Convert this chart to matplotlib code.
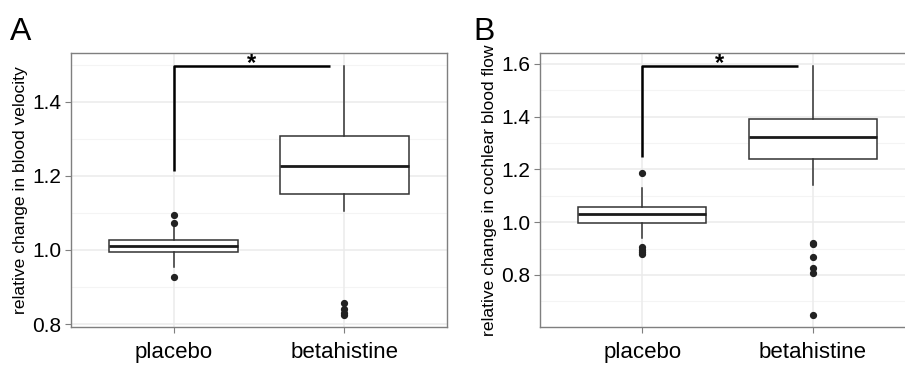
import matplotlib
matplotlib.use("Agg")
import matplotlib.pyplot as plt

plt.rcParams['font.family'] = ['Liberation Sans', 'DejaVu Sans']

groups = ["placebo", "betahistine"]

# panel A: relative change in blood velocity
a_stats = [
    dict(med=1.012, q1=0.995, q3=1.026, whislo=0.955, whishi=1.063, fliers=[1.095, 1.074, 0.927]),
    dict(med=1.227, q1=1.150, q3=1.308, whislo=1.106, whishi=1.498, fliers=[0.856, 0.840, 0.831, 0.825]),
]
# panel B: relative change in cochlear blood flow
b_stats = [
    dict(med=1.032, q1=0.997, q3=1.056, whislo=0.942, whishi=1.130, fliers=[1.185, 0.905, 0.895, 0.888, 0.880]),
    dict(med=1.323, q1=1.240, q3=1.391, whislo=1.140, whishi=1.592, fliers=[0.923, 0.917, 0.869, 0.825, 0.806, 0.650]),
]

a_bracket = (1.498, 1.213)
b_bracket = (1.592, 1.246)


def draw_panel(ax, stats, ylim, major, minor, ylabel, bracket):
    ax.set_facecolor("white")
    ax.set_ylim(*ylim)
    ax.set_xlim(0.4, 2.6)
    for y in minor:
        ax.axhline(y, color="#f4f4f4", lw=0.8, zorder=0)
    for y in major:
        ax.axhline(y, color="#ebebeb", lw=1.1, zorder=0)
    for x in [1, 2]:
        ax.axvline(x, color="#ebebeb", lw=1.1, zorder=0)

    ax.bxp(stats, positions=[1, 2], widths=0.75, patch_artist=True, showcaps=False,
           boxprops=dict(facecolor="white", edgecolor="#333333", linewidth=1.1),
           medianprops=dict(color="#1a1a1a", linewidth=2.0),
           whiskerprops=dict(color="#333333", linewidth=1.1),
           flierprops=dict(marker="o", markerfacecolor="#222222", markeredgecolor="#222222",
                           markersize=4.2),
           zorder=3)

    top, low = bracket
    ax.plot([1, 1, 1.915], [low, top, top], color="black", lw=1.8, zorder=4, solid_capstyle="butt")
    ax.annotate("*", (1.455, top), xytext=(0, 1.5), textcoords="offset points",
                ha="center", va="center", fontsize=17, fontweight="bold")

    ax.set_yticks(major)
    ax.set_yticklabels(["%.1f" % v for v in major], fontsize=15)
    ax.set_xticks([1, 2])
    ax.set_xticklabels(groups, fontsize=16)
    ax.tick_params(axis="both", color="#7f7f7f", length=4, width=0.8)
    ax.tick_params(axis="x", pad=7)
    ax.tick_params(axis="y", pad=3)
    ax.set_ylabel(ylabel, fontsize=12.6, labelpad=3)
    for s in ax.spines.values():
        s.set_color("#7f7f7f")
        s.set_linewidth(1.0)


fig = plt.figure(figsize=(9.05, 3.67), dpi=100)
axA = fig.add_axes([71 / 905, 40 / 367, 376 / 905, 274 / 367])
axB = fig.add_axes([540 / 905, 40 / 367, 375 / 905, 274 / 367])

draw_panel(axA, a_stats, (0.792, 1.532), [0.8, 1.0, 1.2, 1.4], [0.9, 1.1, 1.3, 1.5],
           "relative change in blood velocity", a_bracket)
draw_panel(axB, b_stats, (0.603, 1.641), [0.8, 1.0, 1.2, 1.4, 1.6], [0.7, 0.9, 1.1, 1.3, 1.5],
           "relative change in cochlear blood flow", b_bracket)

fig.text(10 / 905, 1 - 40 / 367, "A", fontsize=23)
fig.text(473 / 905, 1 - 40 / 367, "B", fontsize=23)

fig.savefig("out.png", dpi=100, facecolor="white")
